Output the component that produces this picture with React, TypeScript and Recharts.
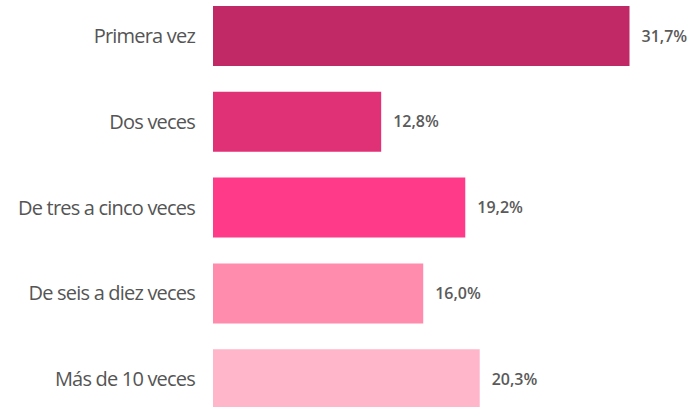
import { BarChart, Bar, XAxis, YAxis, Cell, LabelList } from 'recharts';

const categories = ['Primera vez', 'Dos veces', 'De tres a cinco veces', 'De seis a diez veces', 'Más de 10 veces'];
const shares = [31.7, 12.8, 19.2, 16.0, 20.3];
const barColors = ['#C12966', '#E03177', '#FF3A88', '#FF8BAD', '#FFB6CA'];

const chartData = categories.map((name, i) => ({ name, value: shares[i] }));

const labelFont = '"Open Sans", "Noto Sans", sans-serif';

export default function App() {
  return (
    <div style={{ position: 'absolute', left: 0, top: 0, width: 694, height: 407, overflow: 'hidden', background: '#fff' }}>
      <div style={{ marginTop: -7 }}>
        <BarChart
          width={694}
          height={429}
          data={chartData}
          layout="vertical"
          margin={{ top: 0, right: 8, bottom: 0, left: 0 }}
        >
          <XAxis type="number" domain={[0, 36]} hide />
          <YAxis
            type="category"
            dataKey="name"
            width={213}
            axisLine={false}
            tickLine={false}
            tickSize={0}
            tickMargin={18}
            tick={{ fill: '#555555', fontSize: 20, fontFamily: labelFont, letterSpacing: -0.8 }}
          />
          <Bar dataKey="value" barSize={60} isAnimationActive={false}>
            {chartData.map((d, i) => (
              <Cell key={d.name} fill={barColors[i]} />
            ))}
            <LabelList
              dataKey="value"
              position="right"
              offset={12}
              formatter={(v: number) => `${v.toFixed(1).replace('.', ',')}%`}
              style={{ fill: '#5a5a5a', fontSize: 16, fontFamily: labelFont, fontWeight: 600 }}
            />
          </Bar>
        </BarChart>
      </div>
    </div>
  );
}
